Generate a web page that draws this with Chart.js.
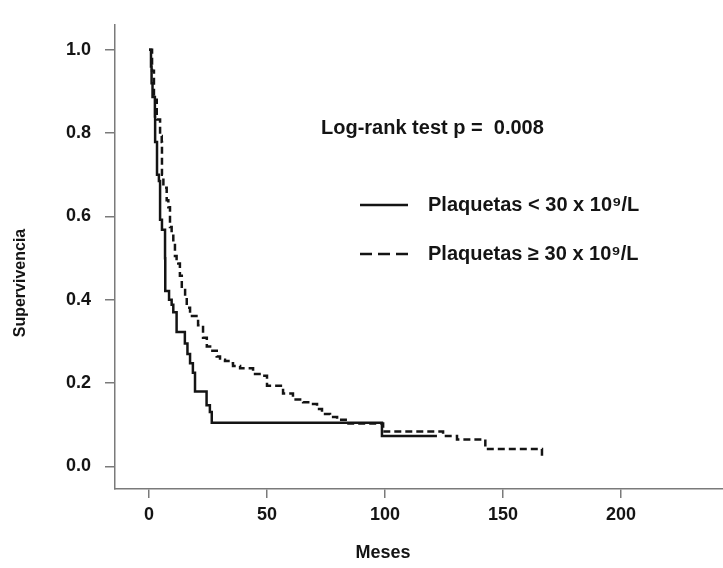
<!DOCTYPE html>
<html>
<head>
<meta charset="utf-8">
<style>
  html, body { margin: 0; padding: 0; background: #fff; }
</style>
<script src="https://cdn.jsdelivr.net/npm/chart.js@4.4.1/dist/chart.umd.min.js"></script>
</head>
<body>
<canvas id="km" width="723" height="568"></canvas>
<script>
// --- DATA ---
const xTicks = [0, 50, 100, 150, 200];
const yTicks = [0.0, 0.2, 0.4, 0.6, 0.8, 1.0];
const seriesLabels = ['Plaquetas < 30 x 10\u2079/L', 'Plaquetas \u2265 30 x 10\u2079/L'];
const testLabel = 'Log-rank test p =  0.008';
const xTitle = 'Meses';
const yTitle = 'Supervivencia';

// Plaquetas < 30 : step times (months) and survival after each step
const lowTimes = [0, 0.85, 1.1, 1.5, 2.5, 2.6, 3.4, 4.2, 4.7, 5.5, 6.8, 6.9, 8.5, 9.6, 10.3, 11.7, 15.2, 16.3, 17.4, 18.6, 19.5, 24.4, 25.8, 26.6, 98.7, 122.0];
const lowSurv  = [1.0, 0.96, 0.92, 0.887, 0.84, 0.779, 0.70, 0.685, 0.592, 0.568, 0.50, 0.421, 0.40, 0.388, 0.37, 0.323, 0.295, 0.27, 0.248, 0.225, 0.18, 0.147, 0.131, 0.105, 0.073, 0.073];

// Plaquetas >= 30
const highTimes = [0, 1.3, 2.1, 3.3, 4.7, 5.4, 5.5, 6.1, 7.5, 8.2, 8.9, 9.6, 10.3, 11.0, 11.7, 12.4, 13.1, 13.9, 15.3, 16.0, 17.4, 20.8, 22.9, 24.5, 25.9, 28.7, 30.1, 32.2, 34.3, 35.6, 38.6, 44.1, 48.3, 50.0, 56.8, 61.0, 65.3, 68.2, 71.2, 73.3, 76.7, 79.7, 83.9, 99.2, 124.6, 130.5, 142.5, 166.5];
const highSurv  = [1.0, 0.95, 0.88, 0.833, 0.793, 0.779, 0.70, 0.669, 0.639, 0.622, 0.575, 0.561, 0.536, 0.505, 0.498, 0.487, 0.458, 0.428, 0.405, 0.381, 0.361, 0.339, 0.309, 0.288, 0.278, 0.264, 0.256, 0.253, 0.248, 0.241, 0.236, 0.222, 0.218, 0.194, 0.175, 0.161, 0.154, 0.150, 0.138, 0.126, 0.119, 0.112, 0.103, 0.084, 0.073, 0.065, 0.042, 0.019];

const INK = '#141414';
const AXIS = '#7a7a7a';
const FONT = '"Liberation Sans", Arial, sans-serif';

function toPoints(ts, ss) {
  return ts.map((t, i) => ({ x: t, y: ss[i] }));
}

// annotation text, legend and axis titles
const overlay = {
  id: 'overlay',
  afterDraw(chart) {
    const c = chart.ctx;
    c.save();
    c.fillStyle = INK;
    c.strokeStyle = INK;
    c.textBaseline = 'middle';
    c.textAlign = 'left';
    c.font = 'bold 20px ' + FONT;
    c.fillText(testLabel, 321, 128);

    // legend rows
    c.lineWidth = 2.5;
    c.beginPath(); c.moveTo(360, 205); c.lineTo(408, 205); c.stroke();
    c.setLineDash([12, 6]);
    c.beginPath(); c.moveTo(360, 254); c.lineTo(408, 254); c.stroke();
    c.setLineDash([]);
    c.fillText(seriesLabels[0], 428, 205);
    c.fillText(seriesLabels[1], 428, 254);

    // axis titles
    c.textAlign = 'center';
    c.font = 'bold 18px ' + FONT;
    c.fillText(xTitle, 383, 553);
    c.translate(21, 283);
    c.rotate(-Math.PI / 2);
    c.font = 'bold 16px ' + FONT;
    c.fillText(yTitle, 0, 0);
    c.restore();
  }
};

new Chart(document.getElementById('km'), {
  type: 'line',
  data: {
    datasets: [
      {
        label: seriesLabels[0],
        data: toPoints(lowTimes, lowSurv),
        borderColor: INK,
        borderWidth: 2.5,
        stepped: 'before',
        pointRadius: 0,
        fill: false
      },
      {
        label: seriesLabels[1],
        data: toPoints(highTimes, highSurv),
        borderColor: INK,
        borderWidth: 2.5,
        borderDash: [7, 4],
        stepped: 'before',
        pointRadius: 0,
        fill: false
      }
    ]
  },
  options: {
    responsive: false,
    animation: false,
    layout: { padding: { top: 13, right: 0, left: 0, bottom: 0 } },
    plugins: { legend: { display: false }, tooltip: { enabled: false } },
    scales: {
      x: {
        type: 'linear',
        min: -14.4,
        max: 243.2,
        afterBuildTicks: (s) => { s.ticks = xTicks.map(v => ({ value: v })); },
        afterFit: (s) => { s.height = 79; },
        grid: { drawOnChartArea: false, drawTicks: true, tickLength: 9, color: AXIS, lineWidth: 1.5 },
        border: { color: AXIS, width: 1.5 },
        ticks: { color: INK, padding: 6, maxRotation: 0, font: { family: FONT, size: 18, weight: 'bold' } }
      },
      y: {
        type: 'linear',
        min: -0.054,
        max: 1.06,
        afterBuildTicks: (s) => { s.ticks = yTicks.map(v => ({ value: v })); },
        afterFit: (s) => { s.width = 115; },
        grid: { drawOnChartArea: false, drawTicks: true, tickLength: 10, color: AXIS, lineWidth: 1.5 },
        border: { color: AXIS, width: 1.5 },
        ticks: {
          color: INK, padding: 14,
          font: { family: FONT, size: 18, weight: 'bold' },
          callback: (v) => v.toFixed(1)
        }
      }
    }
  },
  plugins: [overlay]
});
</script>
</body>
</html>
